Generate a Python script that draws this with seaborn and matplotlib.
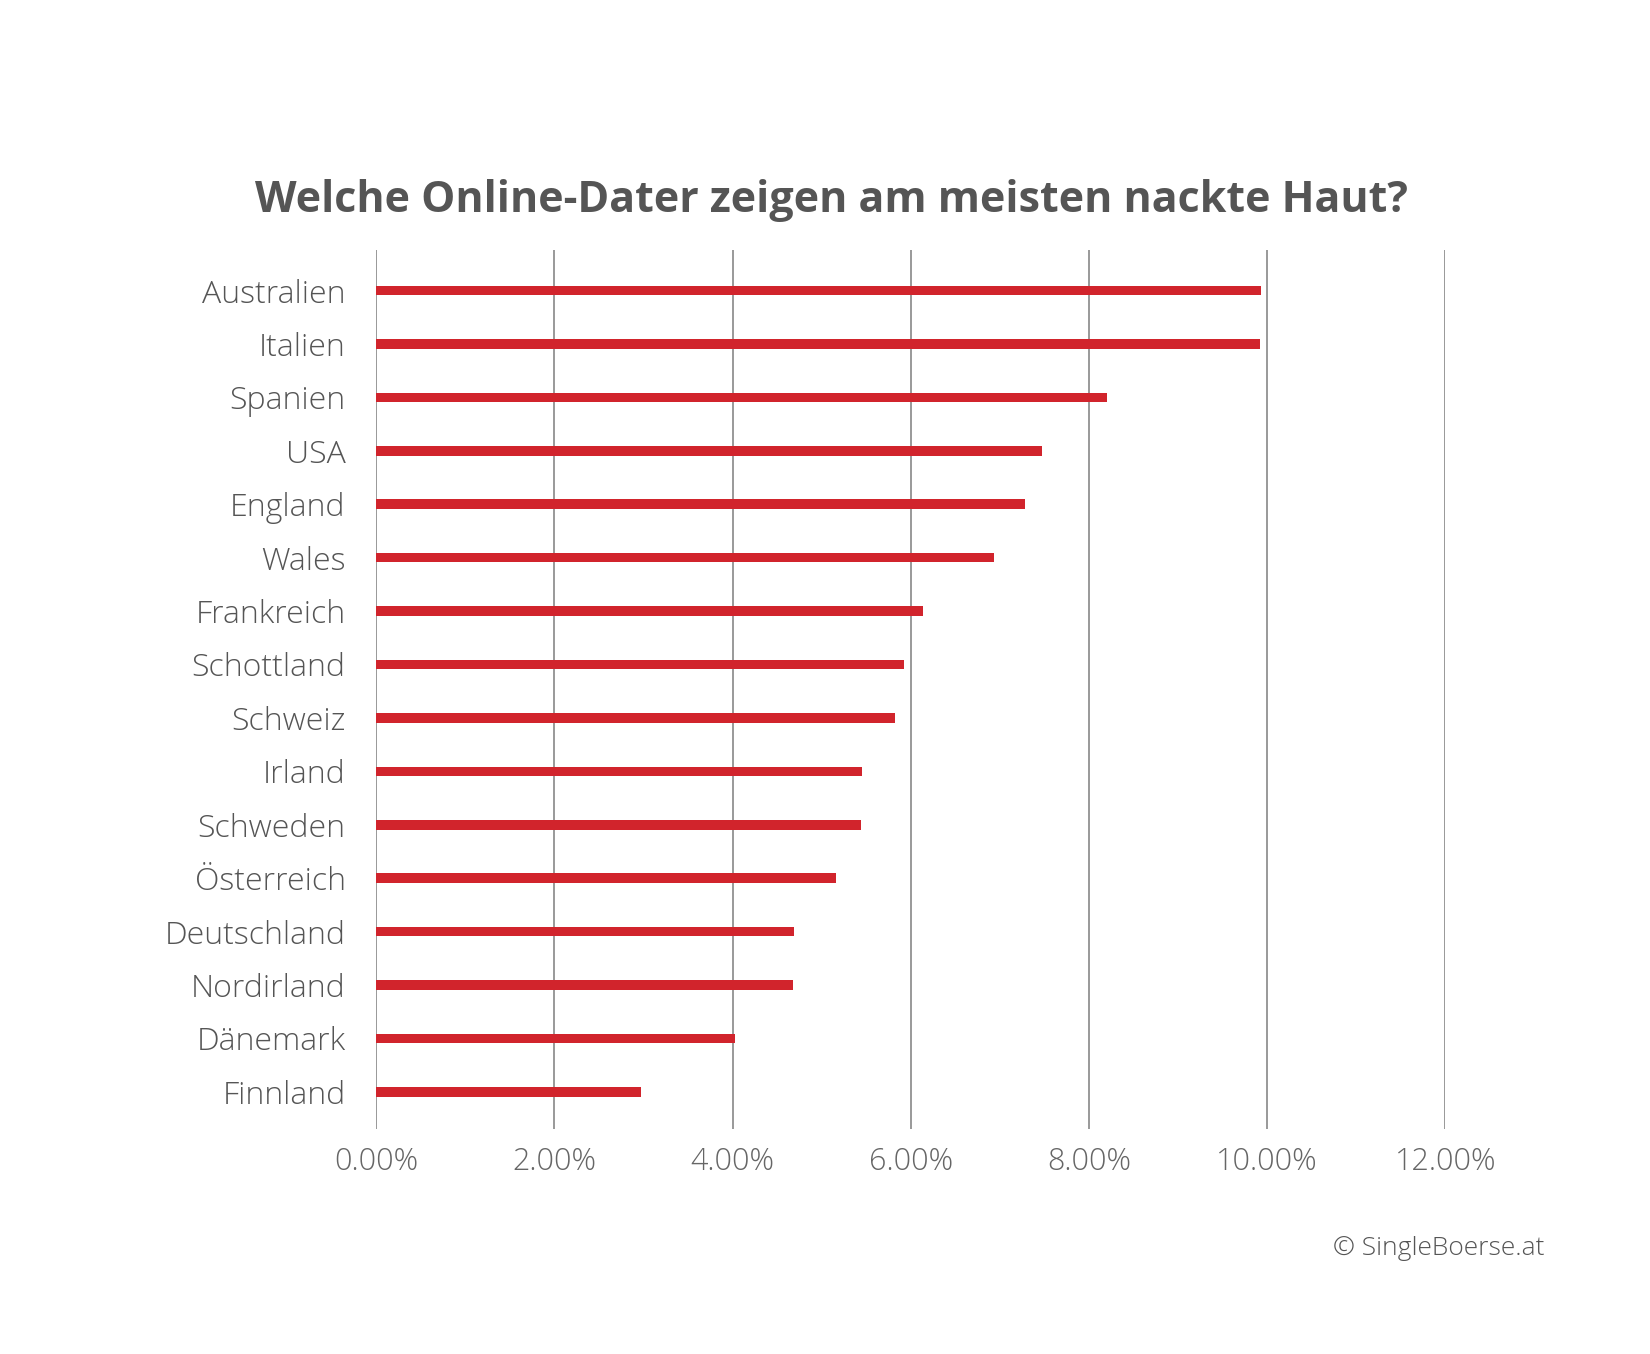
import matplotlib
matplotlib.use("Agg")
import matplotlib.pyplot as plt
import seaborn as sns
import pandas as pd

countries = ["Australien","Italien","Spanien","USA","England","Wales","Frankreich","Schottland",
             "Schweiz","Irland","Schweden","Österreich","Deutschland","Nordirland","Dänemark","Finnland"]
values = [9.93,9.92,8.20,7.47,7.28,6.93,6.14,5.92,5.82,5.45,5.44,5.16,4.69,4.68,4.03,2.97]
ticks = [0,2,4,6,8,10,12]

df = pd.DataFrame({"Land": countries, "Wert": values})
fam = "Open Sans"
fig = plt.figure(figsize=(16.5,13.54), dpi=100)
ax = fig.add_axes([0.228,0.166,0.648,0.649])
sns.barplot(data=df, y="Land", x="Wert", orient="h", color="#d1242c", width=0.18, ax=ax, saturation=1)
ax.set_xlim(0,12)
ax.set_ylim(len(countries)-0.3, -0.75)
ax.set_xticks(ticks)
ax.set_xticklabels([f"{t:.2f}%" for t in ticks], fontsize=22, color="#666666", family=fam, fontweight="light")
ax.set_yticklabels(countries, fontsize=23, color="#555555", family=fam, fontweight="light")
ax.set_xlabel(""); ax.set_ylabel("")
for s in ax.spines.values(): s.set_visible(False)
ax.tick_params(length=0, pad=12)
ax.tick_params(axis="y", pad=22)
ax.xaxis.grid(True, color="#888888", lw=1.2)
ax.set_axisbelow(True)
fig.text(0.504,0.852,"Welche Online-Dater zeigen am meisten nackte Haut?", ha="center", va="center",
         fontsize=31, fontweight="bold", color="#555555", family=fam)
fig.text(0.936,0.078,"© SingleBoerse.at", ha="right", va="center", fontsize=19, color="#555555", family=fam, fontweight="light")
fig.savefig("out.png", dpi=100, facecolor="white")
